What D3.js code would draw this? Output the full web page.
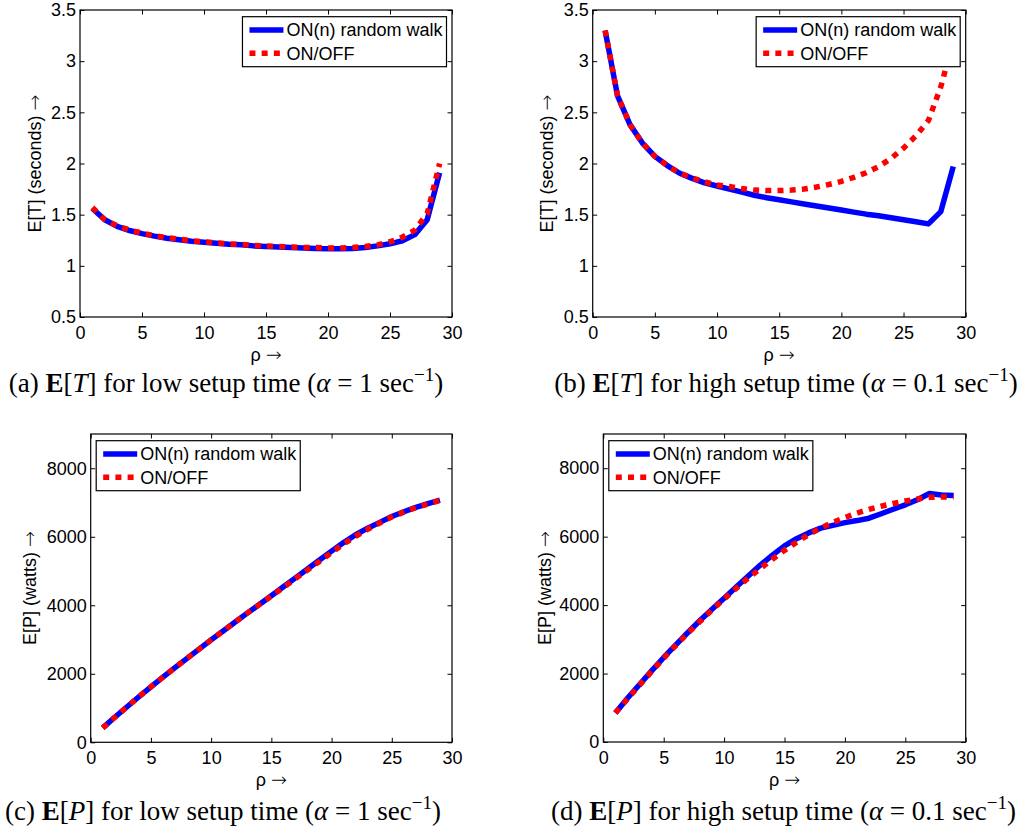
<!DOCTYPE html>
<html><head><meta charset="utf-8">
<script src="https://cdn.jsdelivr.net/npm/d3@7"></script>
<style>body{margin:0;background:#fff} svg{display:block}</style>
</head><body>
<svg id="c" width="1024" height="832"></svg>
<script>
// ---- data ----
const rho = [1,2,3,4,5,6,7,8,9,10,11,12,13,14,15,16,17,18,19,20,21,22,23,24,25,26,27,28,29];

// (a) E[T], alpha = 1
const aOnN   = [1.56,1.45,1.385,1.345,1.315,1.29,1.27,1.255,1.24,1.23,1.22,1.21,1.205,1.195,1.19,1.185,1.18,1.175,1.17,1.168,1.168,1.17,1.18,1.195,1.215,1.245,1.305,1.45,1.91];
const aOnOff = [1.57,1.45,1.39,1.35,1.32,1.295,1.275,1.26,1.245,1.235,1.225,1.215,1.21,1.2,1.195,1.19,1.185,1.18,1.178,1.175,1.175,1.18,1.19,1.205,1.235,1.28,1.35,1.51,2.0];

// (b) E[T], alpha = 0.1
const bOnN   = [3.30,2.66,2.38,2.20,2.07,1.98,1.905,1.855,1.81,1.78,1.75,1.72,1.69,1.665,1.645,1.625,1.605,1.585,1.565,1.545,1.525,1.505,1.49,1.47,1.45,1.43,1.41,1.53,1.97];
const bOnOff = [3.30,2.66,2.38,2.20,2.07,1.98,1.905,1.86,1.82,1.79,1.775,1.755,1.74,1.735,1.735,1.74,1.75,1.77,1.795,1.825,1.865,1.91,1.97,2.05,2.15,2.27,2.42,2.75,3.2];

// (c) E[P], alpha = 1
const cOnN   = [420,730,1030,1330,1620,1900,2180,2450,2720,2990,3250,3510,3770,4020,4280,4540,4800,5060,5320,5580,5830,6060,6250,6420,6590,6730,6860,6970,7070];
const cOnOff = [420,730,1030,1330,1620,1900,2180,2450,2720,2990,3250,3510,3770,4020,4270,4520,4780,5030,5280,5540,5790,6010,6220,6400,6580,6720,6850,6960,7060];

// (d) E[P], alpha = 0.1
const dOnN   = [850,1280,1680,2080,2470,2840,3200,3550,3880,4200,4530,4850,5170,5460,5730,5940,6110,6250,6330,6410,6470,6540,6670,6800,6930,7080,7260,7220,7200];
const dOnOff = [850,1260,1660,2060,2450,2820,3180,3520,3860,4180,4490,4790,5070,5340,5600,5840,6060,6250,6420,6560,6690,6800,6890,6970,7040,7100,7150,7160,7160];

const xTicks = [0,5,10,15,20,25,30];
const tTicks = [0.5,1,1.5,2,2.5,3,3.5];
const pTicks = [0,2000,4000,6000,8000];
const legendLabels = ["ON(n) random walk","ON/OFF"];

// ---- layout ----
const svg = d3.select("#c");
const SANS = "'Liberation Sans', Arial, Helvetica, sans-serif";
const ARROWF = "'DejaVu Sans', 'Noto Sans', sans-serif";
const SERIF = "'Liberation Serif', 'Times New Roman', serif";
const BLUE = "#0000ff", RED = "#ff0000";

const panels = [
  {box:[80,452,10,317], ydom:[0.5,3.5], yt:tTicks, blue:aOnN, red:aOnOff, ylab:"E[T] (seconds) ", ylx:35, leg:"right",
   cap:["(a) ","E","[","T","] for low setup time (","\u03b1"," = 1 sec","\u22121",")"], capx:226, capy:392},
  {box:[592.7,965.7,10,317], ydom:[0.5,3.5], yt:tTicks, blue:bOnN, red:bOnOff, ylab:"E[T] (seconds) ", ylx:546.7, leg:"right",
   cap:["(b) ","E","[","T","] for high setup time (","\u03b1"," = 0.1 sec","\u22121",")"], capx:786, capy:392},
  {box:[90.7,452,434,742.3], ydom:[0,9000], yt:pTicks, blue:cOnN, red:cOnOff, ylab:"E[P] (watts) ", ylx:30, leg:"left",
   cap:["(c) ","E","[","P","] for low setup time (","\u03b1"," = 1 sec","\u22121",")"], capx:223, capy:820},
  {box:[603.3,965.7,434,742], ydom:[0,9000], yt:pTicks, blue:dOnN, red:dOnOff, ylab:"E[P] (watts) ", ylx:545, leg:"left",
   cap:["(d) ","E","[","P","] for high setup time (","\u03b1"," = 0.1 sec","\u22121",")"], capx:783.5, capy:820}
];

panels.forEach(p => {
  const [x0,x1,y0,y1] = p.box;
  const x = d3.scaleLinear().domain([0,30]).range([x0,x1]);
  const y = d3.scaleLinear().domain(p.ydom).range([y1,y0]);
  const g = svg.append("g");

  const TL = 4.5;
  const styleAxis = sel => {
    sel.selectAll("path.domain").remove();
    sel.selectAll("line").attr("stroke","#000").attr("stroke-width",1);
    sel.selectAll("text").attr("font-family",SANS).attr("font-size","18px").attr("fill","#000");
  };
  g.append("g").attr("transform",`translate(0,${y1})`)
    .call(d3.axisBottom(x).tickValues(xTicks).tickFormat(d3.format("d")).tickSizeInner(-TL).tickSizeOuter(0).tickPadding(9))
    .call(styleAxis);
  g.append("g").attr("transform",`translate(0,${y0})`)
    .call(d3.axisTop(x).tickValues(xTicks).tickFormat("").tickSizeInner(-TL).tickSizeOuter(0))
    .call(styleAxis);
  g.append("g").attr("transform",`translate(${x0},0)`)
    .call(d3.axisLeft(y).tickValues(p.yt).tickFormat(d => String(d)).tickSizeInner(-TL).tickSizeOuter(0).tickPadding(4))
    .call(styleAxis);
  g.append("g").attr("transform",`translate(${x1},0)`)
    .call(d3.axisRight(y).tickValues(p.yt).tickFormat("").tickSizeInner(-TL).tickSizeOuter(0))
    .call(styleAxis);

  g.append("rect").attr("x",x0).attr("y",y0).attr("width",x1-x0).attr("height",y1-y0)
    .attr("fill","none").attr("stroke","#000").attr("stroke-width",1.2);

  const clipId = "clip" + Math.round(x0) + "_" + Math.round(y0);
  svg.append("clipPath").attr("id",clipId).append("rect")
    .attr("x",x0).attr("y",y0).attr("width",x1-x0).attr("height",y1-y0);

  const line = d3.line().x((d,i)=>x(rho[i])).y(d=>y(d));
  const lg = g.append("g").attr("clip-path",`url(#${clipId})`);
  lg.append("path").attr("d",line(p.blue)).attr("fill","none").attr("stroke",BLUE)
    .attr("stroke-width",5.5).attr("stroke-linejoin","round");
  lg.append("path").attr("d",line(p.red)).attr("fill","none").attr("stroke",RED)
    .attr("stroke-width",5.5).attr("stroke-dasharray","6,6.2").attr("stroke-linejoin","miter");

  // axis labels
  const xl = g.append("text").attr("x",(x0+x1)/2).attr("y",y1+44).attr("text-anchor","middle")
    .attr("font-family",SANS).attr("font-size","18px");
  xl.append("tspan").text("\u03c1 ");
  xl.append("tspan").attr("font-family",ARROWF).attr("font-weight","200").attr("font-size","19px").text("\u2192");
  const yl = g.append("text").attr("transform",`translate(${p.ylx},${(y0+y1)/2}) rotate(-90)`)
    .attr("text-anchor","middle").attr("y","6")
    .attr("font-family",SANS).attr("font-size","18px");
  yl.append("tspan").text(p.ylab);
  yl.append("tspan").attr("font-family",ARROWF).attr("font-weight","200").attr("font-size","19px").text("\u2192");

  // legend
  const lgG = g.append("g");
  const rect = lgG.append("rect").attr("fill","#fff").attr("stroke","#000").attr("stroke-width",1.2);
  const texts = legendLabels.map((t,i) => lgG.append("text")
    .attr("font-family",SANS).attr("font-size","18px").attr("dy","0.36em").text(t));
  const tw = d3.max(texts, t => t.node().getComputedTextLength());
  const bw = 7 + 34 + 3 + tw + 4, bh = 50;
  const bx = p.leg === "right" ? x1 - 5.5 - bw : x0 + 5.5;
  const by = y0 + 6.7;
  rect.attr("x",bx).attr("y",by).attr("width",bw).attr("height",bh);
  const rows = [by + 13.3, by + 36.6];
  lgG.append("line").attr("x1",bx+7).attr("x2",bx+41).attr("y1",rows[0]).attr("y2",rows[0])
    .attr("stroke",BLUE).attr("stroke-width",5.5);
  lgG.append("line").attr("x1",bx+7).attr("x2",bx+41).attr("y1",rows[1]).attr("y2",rows[1])
    .attr("stroke",RED).attr("stroke-width",5.5).attr("stroke-dasharray","6,6.2");
  texts.forEach((t,i) => t.attr("x",bx+44).attr("y",rows[i]));

  // caption
  const c = p.cap;
  const cap = svg.append("text").attr("x",p.capx).attr("y",p.capy).attr("text-anchor","middle")
    .attr("font-family",SERIF).attr("font-size","27px").attr("fill","#000");
  cap.append("tspan").text(c[0]);
  cap.append("tspan").attr("font-weight","bold").text(c[1]);
  cap.append("tspan").text(c[2]);
  cap.append("tspan").attr("font-style","italic").text(c[3]);
  cap.append("tspan").text(c[4]);
  cap.append("tspan").attr("font-style","italic").text(c[5]);
  cap.append("tspan").text(c[6]);
  cap.append("tspan").attr("font-size","19px").attr("dy","-11").text(c[7]);
  cap.append("tspan").attr("dy","11").text(c[8]);
});
</script>
</body></html>
